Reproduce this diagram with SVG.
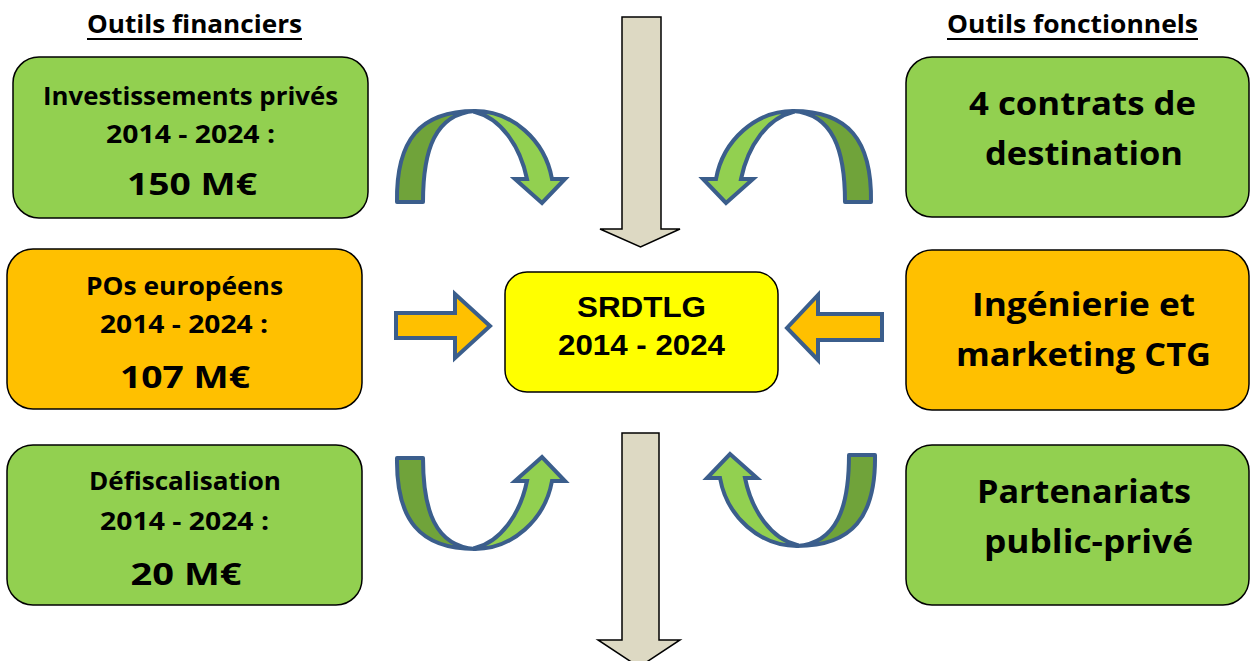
<svg xmlns="http://www.w3.org/2000/svg" width="1250" height="661" viewBox="0 0 1250 661">
<style>
.box{stroke:#000;stroke-width:1.5}
.green{fill:#92d050}
.orange{fill:#ffc000}
.yellow{fill:#ffff00}
.t{font-family:"Open Sans",Lato,"Liberation Sans",sans-serif;font-weight:bold;fill:#000;text-anchor:middle}
.a{font-family:"Liberation Sans",Arial,sans-serif;font-weight:bold;fill:#000;text-anchor:middle}
.down{fill:#ddd9c3;stroke:#000;stroke-width:1.5}
.flat{fill:#ffc000;stroke:#3b5e8c;stroke-width:4;stroke-linejoin:miter}
.dk{fill:#70a33a;stroke:#3b5e8c;stroke-width:4;stroke-linejoin:round}
.lt{fill:#92d050;stroke:#3b5e8c;stroke-width:4;stroke-linejoin:miter}
</style>
<defs>
<g id="curvedArrow">
<path class="dk" d="M397,202 C396,140 420,111 475,111 C435,114 423,150 423,202 Z"/>
<path class="lt" d="M475,111 C512,111 545,140 552,179 L565,179 L542,203 L515,179 L527,179 C520,145 500,118 475,112 Z"/>
</g>
</defs>
<rect width="1250" height="661" fill="#fff"/>
<g id="headers">
<text class="t" x="194.5" y="33" font-size="25" textLength="215" lengthAdjust="spacingAndGlyphs">Outils financiers</text>
<line x1="87" y1="39" x2="302" y2="39" stroke="#000" stroke-width="2"/>
<text class="t" x="1072.5" y="33" font-size="25" textLength="251" lengthAdjust="spacingAndGlyphs">Outils fonctionnels</text>
<line x1="947" y1="39" x2="1198" y2="39" stroke="#000" stroke-width="2"/>
</g>
<g id="connectors">
<path class="down" d="M622,17 L661,17 L661,229 L680,229 L640.5,247 L600,229 L622,229 Z"/>
<path class="down" d="M622,433 L659,433 L659,640 L680,640 L639,667 L598,640 L622,640 Z"/>
<path class="flat" d="M396,313 L455,313 L455,294 L490,326 L455,358 L455,338 L396,338 Z"/>
<path class="flat" d="M882,314 L818,314 L818,295 L787,328 L818,360 L818,340 L882,340 Z"/>
<use href="#curvedArrow"/>
<use href="#curvedArrow" transform="translate(1268,0) scale(-1,1)"/>
<use href="#curvedArrow" transform="translate(0,660) scale(1,-1)"/>
<use href="#curvedArrow" transform="translate(1272,657) scale(-1,-1)"/>
</g>
<g id="invest">
<rect class="box green" x="13" y="57" width="355" height="161" rx="26"/>
<text class="t" x="190.5" y="105" font-size="24.5" textLength="295" lengthAdjust="spacingAndGlyphs">Investissements privés</text>
<text class="t" x="190.5" y="143" font-size="24.5" textLength="169" lengthAdjust="spacingAndGlyphs">2014 - 2024 :</text>
<text class="t" x="192" y="195" font-size="30" textLength="130" lengthAdjust="spacingAndGlyphs">150 M€</text>
</g>
<g id="pos">
<rect class="box orange" x="7" y="249" width="355" height="160" rx="26"/>
<text class="t" x="184.5" y="295" font-size="24.5" textLength="197" lengthAdjust="spacingAndGlyphs">POs européens</text>
<text class="t" x="184" y="333" font-size="24.5" textLength="168" lengthAdjust="spacingAndGlyphs">2014 - 2024 :</text>
<text class="t" x="185" y="388" font-size="30" textLength="130" lengthAdjust="spacingAndGlyphs">107 M€</text>
</g>
<g id="defisc">
<rect class="box green" x="7" y="445" width="355" height="160" rx="26"/>
<text class="t" x="185" y="490" font-size="24.5" textLength="192" lengthAdjust="spacingAndGlyphs">Défiscalisation</text>
<text class="t" x="184.5" y="530" font-size="24.5" textLength="169" lengthAdjust="spacingAndGlyphs">2014 - 2024 :</text>
<text class="t" x="186" y="585" font-size="30" textLength="111" lengthAdjust="spacingAndGlyphs">20 M€</text>
</g>
<g id="srdtlg">
<rect class="box yellow" x="505" y="272" width="273" height="120" rx="22"/>
<text class="a" x="641.5" y="317" font-size="29" textLength="129" lengthAdjust="spacingAndGlyphs">SRDTLG</text>
<text class="a" x="641.5" y="355" font-size="29" textLength="167" lengthAdjust="spacingAndGlyphs">2014 - 2024</text>
</g>
<g id="contrats">
<rect class="box green" x="906" y="57" width="343" height="160" rx="26"/>
<text class="t" x="1082.5" y="115" font-size="32.5" textLength="227" lengthAdjust="spacingAndGlyphs">4 contrats de</text>
<text class="t" x="1084" y="165" font-size="32.5" textLength="198" lengthAdjust="spacingAndGlyphs">destination</text>
</g>
<g id="ingenierie">
<rect class="box orange" x="906" y="250" width="343" height="160" rx="26"/>
<text class="t" x="1083.5" y="316" font-size="32.5" textLength="223" lengthAdjust="spacingAndGlyphs">Ingénierie et</text>
<text class="t" x="1083.5" y="366" font-size="32.5" textLength="255" lengthAdjust="spacingAndGlyphs">marketing CTG</text>
</g>
<g id="partenariats">
<rect class="box green" x="906" y="445" width="343" height="160" rx="26"/>
<text class="t" x="1084" y="503" font-size="32.5" textLength="214" lengthAdjust="spacingAndGlyphs">Partenariats</text>
<text class="t" x="1088.5" y="553" font-size="32.5" textLength="209" lengthAdjust="spacingAndGlyphs">public-privé</text>
</g>
</svg>
